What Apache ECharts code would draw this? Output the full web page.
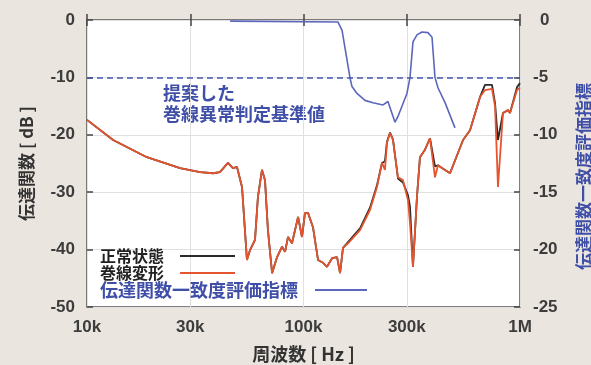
<!DOCTYPE html>
<html><head><meta charset="utf-8">
<script src="https://cdn.jsdelivr.net/npm/echarts@6/dist/echarts.min.js"></script>
<style>html,body{margin:0;padding:0;background:#eae5df;}#c{width:591px;height:365px;}</style>
</head><body><div id="c"></div>
<script>
// Frequencies (Hz) for the transfer-function curves
const freqs = [10000,13200,18900,26900,33300,38200,41100,44800,47200,49300,52000,54800,56600,59700,61600,64300,66400,68500,71600,75500,79600,82200,84800,88500,94400,98400,101600,104900,110600,116700,123100,128400,135500,142900,147500,152200,160500,182400,202800,218500,230400,237800,243000,251000,259000,273100,288000,303800,310400,320400,334300,345100,364000,383900,404900,417900,436200,475100,545700,587700,653800,689200,742300,766900,791300,834400,880300,899200,968900,1000000];
// 正常状態 (dB)
const normal = [-17.4,-20.9,-23.9,-25.8,-26.5,-26.7,-26.5,-24.9,-25.8,-25.6,-29.1,-41.8,-40.1,-38.3,-30.8,-26.1,-27.9,-36.6,-44.1,-41.3,-39.5,-40.4,-37.8,-38.9,-34.3,-37.8,-33.6,-33.6,-36.1,-41.8,-42.3,-43.0,-41.5,-41.3,-44.1,-39.7,-38.7,-36.3,-32.7,-28.8,-24.9,-24.6,-21.2,-19.6,-20.8,-27.6,-28.3,-30.5,-32.5,-43.0,-30.8,-23.9,-22.6,-20.6,-25.5,-25.3,-25.8,-26.7,-20.9,-19.2,-13.4,-11.3,-11.3,-14.5,-20.9,-16.2,-15.7,-16.2,-11.7,-11.0];
// 巻線変形 (dB)
const deformed = [-17.4,-20.9,-23.9,-25.8,-26.5,-26.7,-26.5,-24.9,-25.8,-25.6,-29.1,-41.8,-40.1,-38.3,-30.8,-26.1,-27.9,-36.6,-44.1,-41.3,-39.5,-40.4,-37.8,-38.9,-34.3,-37.8,-33.6,-33.6,-36.1,-41.8,-42.3,-43.0,-41.5,-41.3,-44.1,-39.7,-38.9,-36.6,-33.1,-29.1,-24.9,-26.1,-21.4,-19.7,-20.9,-27.4,-27.9,-31.4,-35.4,-43.0,-30.8,-23.9,-22.6,-20.6,-27.4,-25.3,-25.8,-26.7,-20.9,-19.2,-13.4,-12.2,-12.0,-15.0,-29.1,-16.2,-15.7,-16.2,-12.2,-11.8];
// 伝達関数一致度評価指標 (right axis)
const indexFreqs = [45800,144200,150700,158900,164000,167500,176600,192300,209400,232900,245500,264600,273100,300500,310400,320400,334300,352400,375700,392300,404900,417900,450500,500900];
const indexValues = [-0.1,-0.17,-0.9,-3.5,-5.05,-5.8,-6.4,-7.0,-7.2,-7.4,-7.1,-8.9,-8.4,-6.4,-5.0,-1.9,-1.3,-1.05,-1.1,-1.5,-5.0,-5.9,-7.2,-9.4];
const thresholdDb = -10;
const xTicks = [10000,30000,100000,300000,1000000];
const xTickLabels = ['10k','30k','100k','300k','1M'];

const numFont = 'Liberation Sans';
const jpFont = '"Noto Sans CJK JP"';
const blue = '#3f4fa8';

function xLabel(v){
  let best = 0, bd = Infinity;
  xTicks.forEach((t,i)=>{const d=Math.abs(Math.log10(t)-Math.log10(v)); if(d<bd){bd=d;best=i;}});
  return xTickLabels[best];
}

const chart = echarts.init(document.getElementById('c'));
chart.setOption({
  backgroundColor: '#eae5df',
  animation: false,
  grid: {left: 87, right: 71, top: 20, bottom: 58, show: true, backgroundColor: '#fff', borderColor: '#555', borderWidth: 1.5,
    containLabel: false, outerBoundsMode: 'none'},
  xAxis: [{
    type: 'log', logBase: 10, min: 10000, max: 1000000, position: 'bottom',
    name: '周波数 [ Hz ]', nameLocation: 'middle', nameGap: 38,
    nameTextStyle: {fontFamily: jpFont, fontSize: 18, fontWeight: 'bold', color: '#333'},
    axisLine: {show: false},
    axisTick: {inside: true, length: 6, customValues: xTicks, lineStyle: {color: '#444', width: 1.5}},
    axisLabel: {customValues: xTicks, formatter: xLabel, margin: 12, fontFamily: numFont, fontSize: 17, fontWeight: 'bold', color: '#3c3c3c'},
    splitLine: {show: true, lineStyle: {color: '#e0e0e0', width: 1}},
    minorTick: {show: false}, minorSplitLine: {show: false}
  },{
    type: 'log', logBase: 10, min: 10000, max: 1000000, position: 'top',
    axisLine: {show: false},
    axisTick: {inside: true, length: 6, customValues: xTicks, lineStyle: {color: '#444', width: 1.5}},
    axisLabel: {show: false, customValues: xTicks},
    splitLine: {show: false}
  }],
  yAxis: [{
    type: 'value', min: -50, max: 0, interval: 10, position: 'left',
    name: '伝達関数 [ dB ]', nameLocation: 'middle', nameGap: 52,
    nameTextStyle: {fontFamily: jpFont, fontSize: 17, fontWeight: 'bold', color: '#333'},
    axisLine: {show: false},
    axisTick: {inside: true, length: 6, lineStyle: {color: '#444', width: 1.5}},
    axisLabel: {margin: 12, fontFamily: numFont, fontSize: 17, fontWeight: 'bold', color: '#3c3c3c'},
    splitLine: {show: true, lineStyle: {color: '#e0e0e0', width: 1}}
  },{
    type: 'value', min: -25, max: 0, interval: 5, position: 'right',
    name: '伝達関数一致度評価指標', nameLocation: 'middle', nameGap: 55,
    nameTextStyle: {fontFamily: jpFont, fontSize: 17, fontWeight: 'bold', color: blue, padding: [0, 26, 0, 0]},
    axisLine: {show: false},
    axisTick: {inside: true, length: 6, lineStyle: {color: '#444', width: 1.5}},
    axisLabel: {margin: 13, fontFamily: numFont, fontSize: 17, fontWeight: 'bold', color: '#3c3c3c',
      formatter: v => v === 0 ? '{z|0}' : String(v),
      rich: {z: {padding: [0,0,0,7], fontFamily: numFont, fontSize: 17, fontWeight: 'bold', color: '#3c3c3c'}}},
    splitLine: {show: false}
  }],
  legend: [
    {data: ['正常状態'], left: 100, top: 248, padding: 0, orient: 'vertical', align: 'right', selectedMode: false, icon: 'rect',
     itemWidth: 55, itemHeight: 2, textStyle: {fontFamily: jpFont, fontSize: 16, fontWeight: 'bold', color: '#222', padding: [0, 11, 0, 0]}},
    {data: ['巻線変形'], left: 100, top: 265, padding: 0, orient: 'vertical', align: 'right', selectedMode: false, icon: 'rect',
     itemWidth: 55, itemHeight: 2, textStyle: {fontFamily: jpFont, fontSize: 16, fontWeight: 'bold', color: '#222', padding: [0, 11, 0, 0]}},
    {data: ['伝達関数一致度評価指標'], left: 100, top: 281, padding: 0, orient: 'vertical', align: 'right', selectedMode: false, icon: 'rect',
     itemWidth: 52, itemHeight: 2, textStyle: {fontFamily: jpFont, fontSize: 18, fontWeight: 'bold', color: blue, padding: [0, 12, 0, 0]}}
  ],
  graphic: [{
    type: 'text', left: 163, top: 83,
    style: {text: '提案した\n巻線異常判定基準値', fill: blue, font: 'bold 18px "Noto Sans CJK JP"', lineHeight: 21}
  }],
  series: [{
    name: '正常状態', type: 'line', xAxisIndex: 0, yAxisIndex: 0, symbol: 'none', z: 2,
    data: freqs.map((f,i)=>[f, normal[i]]),
    lineStyle: {color: '#2b2b2b', width: 1.8}, itemStyle: {color: '#2b2b2b'}
  },{
    name: '巻線変形', type: 'line', xAxisIndex: 0, yAxisIndex: 0, symbol: 'none', z: 3,
    data: freqs.map((f,i)=>[f, deformed[i]]),
    lineStyle: {color: '#e4552f', width: 1.8}, itemStyle: {color: '#e4552f'},
    markLine: {silent: true, symbol: 'none', label: {show: false},
      lineStyle: {color: '#4656b0', type: [6,4], width: 1.5},
      data: [{yAxis: thresholdDb}]}
  },{
    name: '伝達関数一致度評価指標', type: 'line', xAxisIndex: 0, yAxisIndex: 1, symbol: 'none', z: 4,
    data: indexFreqs.map((f,i)=>[f, indexValues[i]]),
    lineStyle: {color: '#5c67bb', width: 1.6}, itemStyle: {color: '#5c67bb'}
  }]
});
</script></body></html>
